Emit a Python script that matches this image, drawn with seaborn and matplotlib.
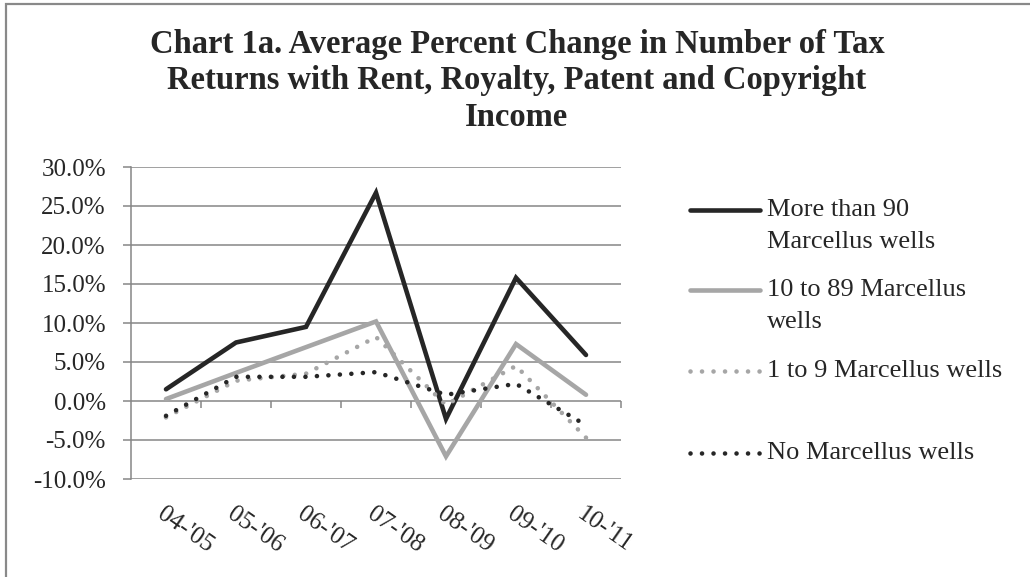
import matplotlib.pyplot as plt
import matplotlib.lines as mlines
import matplotlib.patches as mpatches
import pandas as pd
import numpy as np
import seaborn as sns

sns.set_style("white")
plt.rcParams['font.family'] = ['Liberation Serif', 'DejaVu Serif']

# Дані графіка (відсотки)
periods = ["04-'05", "05-'06", "06-'07", "07-'08", "08-'09", "09-'10", "10-'11"]
more_than_90 = [1.5, 7.5, 9.5, 26.7, -2.3, 15.8, 5.9]
from_10_to_89 = [0.25, 3.6, 6.9, 10.2, -7.1, 7.3, 0.8]
from_1_to_9 = [-2.1, 2.6, 3.5, 8.2, -0.5, 4.5, -4.7]
no_wells = [-1.9, 3.1, 3.1, 3.7, 0.8, 2.2, -3.1]
y_ticks = [-10, -5, 0, 5, 10, 15, 20, 25, 30]

labels = ["More than 90\nMarcellus wells", "10 to 89 Marcellus\nwells",
          "1 to 9 Marcellus wells", "No Marcellus wells"]
title_lines = ["Chart 1a. Average Percent Change in Number of Tax",
               "Returns with Rent, Royalty, Patent and Copyright",
               "Income"]
series = [more_than_90, from_10_to_89, from_1_to_9, no_wells]

dark = '#262626'
light = '#a6a6a6'
grid_c = '#868686'
dots = (0, (0.01, 2.5))
styles = [dict(color=dark, linestyle='-'), dict(color=light, linestyle='-'),
          dict(color=light, linestyle=dots), dict(color=dark, linestyle=dots)]

fig = plt.figure(figsize=(10.3, 5.77), dpi=100)
ax = fig.add_axes([131 / 1030, 1 - 479 / 577, 490 / 1030, 312 / 577])

x = np.arange(len(periods))
for vals, st in zip(series, styles):
    df = pd.DataFrame({'x': x, 'y': vals})
    sns.lineplot(data=df, x='x', y='y', ax=ax, lw=3.3, sort=False,
                 solid_capstyle='round', dash_capstyle='round',
                 solid_joinstyle='miter', **st)

ax.set_xlim(-0.5, len(periods) - 0.5)
ax.set_ylim(-10, 30)
ax.set_yticks(y_ticks)
ax.set_yticklabels([f'{v:.1f}%' for v in y_ticks], fontsize=18)
ax.yaxis.grid(True, color=grid_c, lw=1.1)
ax.set_axisbelow(True)
ax.set_xlabel('')
ax.set_ylabel('')
for s in ['top', 'right', 'bottom']:
    ax.spines[s].set_visible(False)
ax.spines['left'].set_color(grid_c)
ax.spines['left'].set_linewidth(1.1)
ax.tick_params(axis='y', direction='out', length=6, width=1.1, color=grid_c,
               pad=12, left=True)

# підписи категорій знизу
ax.set_xticks(x)
ax.set_xticklabels(periods, rotation=-35, ha='left', va='top',
                   rotation_mode='anchor', fontsize=18)
ax.tick_params(axis='x', length=0, pad=17)

# вісь X на рівні нуля з рисками між категоріями
zero_frac = (0 - (-10)) / 40
sec = ax.secondary_xaxis(zero_frac)
sec.set_xticks(np.arange(0.5, len(periods), 1.0))
sec.set_xticklabels([])
sec.tick_params(axis='x', direction='out', length=5, width=1.1, color=grid_c)
sec.spines['bottom'].set_visible(False)

# заголовок
for line, base in zip(title_lines, [53, 89, 126]):
    fig.text(517 / 1030, 1 - base / 577, line, ha='center', va='baseline',
             fontsize=23.5, weight='bold')

# легенда
leg_y = [210, 290, 371, 453]
for lab, st, yy in zip(labels, styles, leg_y):
    fy = 1 - yy / 577
    fig.add_artist(mlines.Line2D([690 / 1030, 760 / 1030], [fy, fy], lw=3.3,
                                 solid_capstyle='round', dash_capstyle='round', **st))
    for k, part in enumerate(lab.split('\n')):
        fig.text(767 / 1030, 1 - (yy + 32 * k) / 577, part, ha='left',
                 va='center', fontsize=19)

# рамка діаграми
fig.add_artist(mpatches.Rectangle((6 / 1030, -0.1), 1.2, 1.1 - 4 / 577,
                                  transform=fig.transFigure, fill=False,
                                  ec='#898989', lw=1.6))

fig.savefig('out.png', dpi=100)
